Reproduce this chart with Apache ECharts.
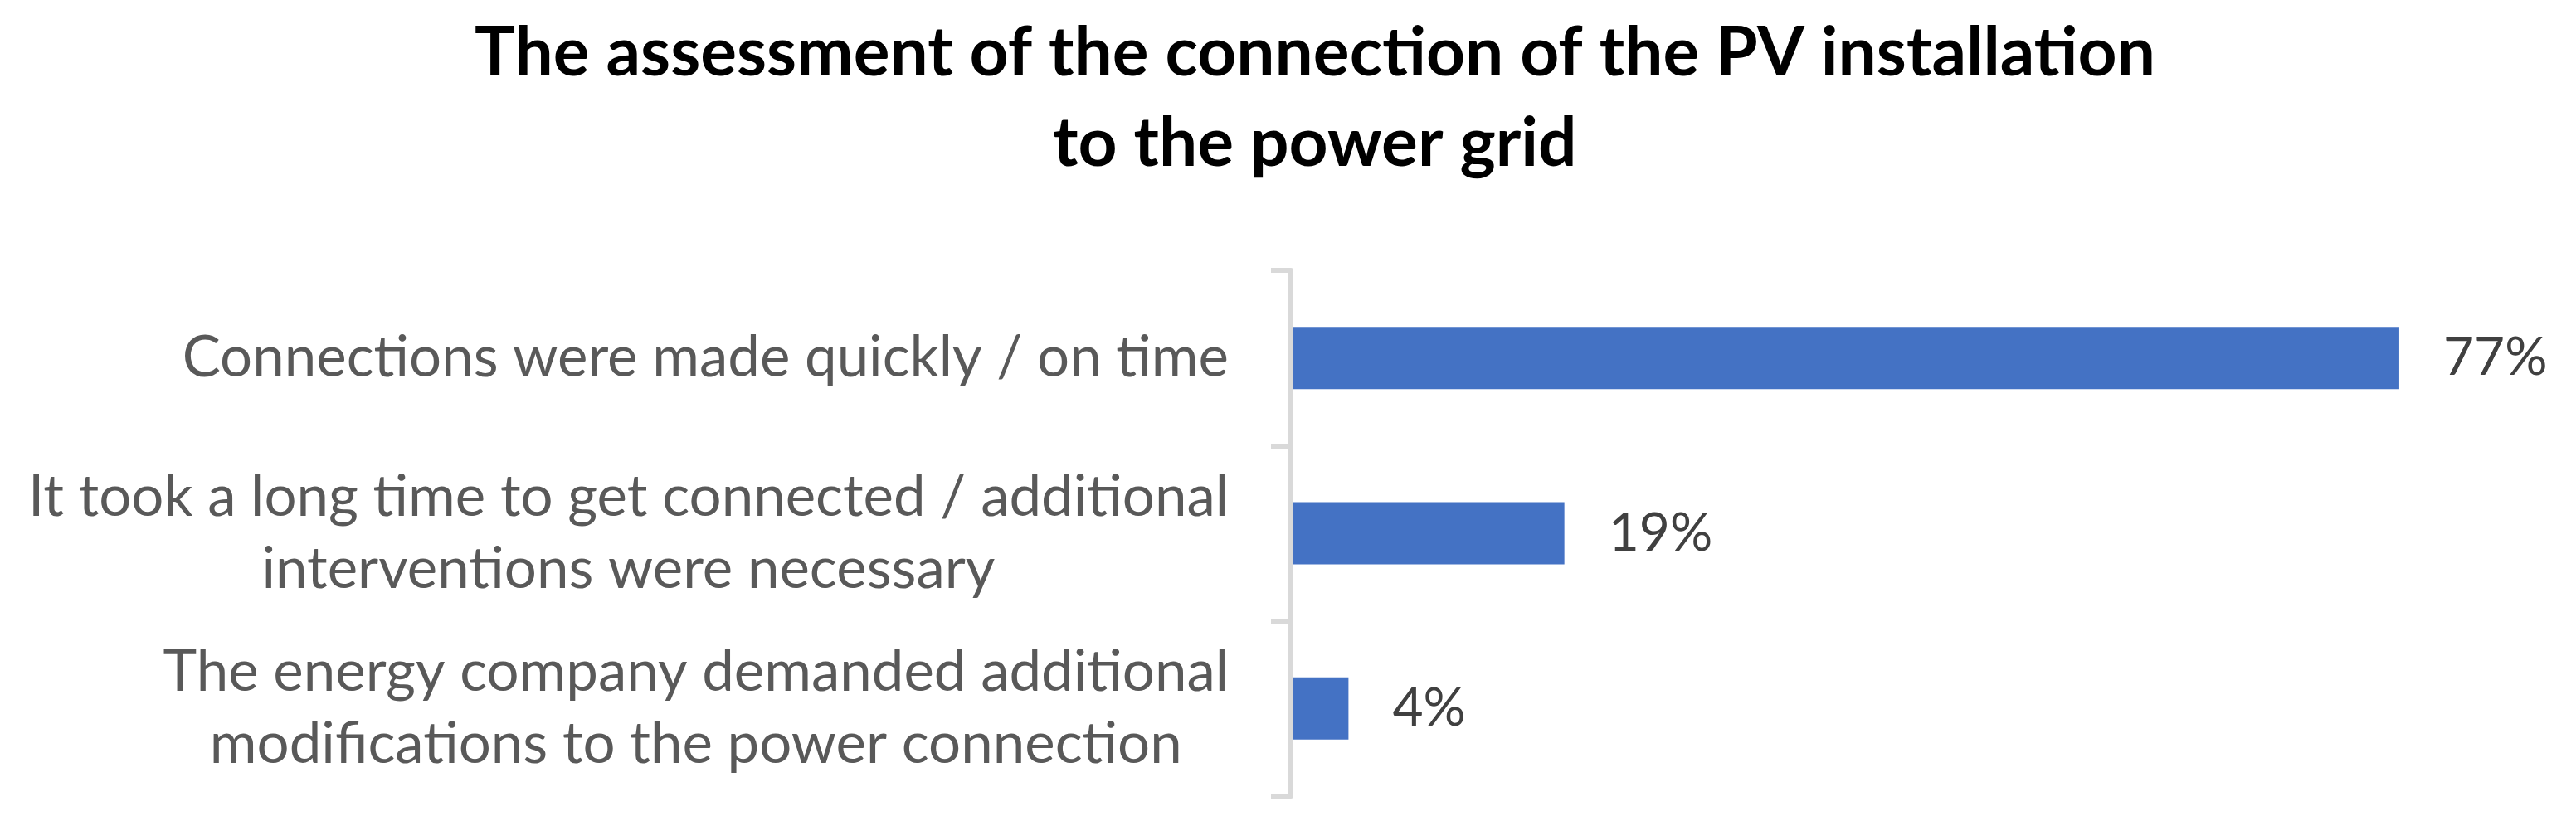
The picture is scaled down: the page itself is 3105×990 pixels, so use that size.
<!DOCTYPE html>
<html>
<head>
<meta charset="utf-8">
<script src="https://cdn.jsdelivr.net/npm/echarts@6/dist/echarts.min.js"></script>
<style>
  html, body { margin: 0; padding: 0; background: #fff; }
  #chart { width: 3105px; height: 990px; }
</style>
</head>
<body>
<div id="chart"></div>
<script>
// data
const categories = [
  "Connections were made quickly / on time",
  "It took a long time to get connected / additional\ninterventions were necessary",
  "The energy company demanded additional\nmodifications to the power connection"
];
const shares = [77, 19, 4];
const titleText = "The assessment of the connection of the PV installation\nto the power grid";

const chart = echarts.init(document.getElementById("chart"));

chart.setOption({
  backgroundColor: "#ffffff",
  animation: false,
  title: {
    text: titleText,
    left: 1585,
    top: 10,
    textAlign: "center",
    padding: 0,
    textStyle: {
      fontFamily: "Lato",
      fontWeight: "bold",
      fontSize: 82,
      lineHeight: 109,
      color: "#000000"
    }
  },
  grid: {
    left: 1556,
    right: 161,
    top: 326,
    bottom: 30,
    containLabel: false
  },
  xAxis: {
    type: "value",
    min: 0,
    max: 80,
    show: false
  },
  yAxis: {
    type: "category",
    data: categories,
    inverse: true,
    z: 5,
    axisLine: { show: true, lineStyle: { color: "#d9d9d9", width: 6 } },
    axisTick: { show: true, inside: false, alignWithLabel: false, length: 24, lineStyle: { color: "#d9d9d9", width: 6 } },
    axisLabel: {
      margin: 75,
      align: "right",
      formatter: function (v) {
        // centre each line inside the right-aligned block
        return v.split("\n").map(function (s) { return "{c|" + s + "}"; }).join("\n");
      },
      rich: {
        c: {
          align: "center",
          fontFamily: "Lato",
          fontSize: 69,
          lineHeight: 87,
          color: "#595959"
        }
      }
    }
  },
  series: [
    {
      type: "bar",
      data: shares,
      barWidth: 75,
      itemStyle: { color: "#4472c4" },
      label: {
        show: true,
        position: "right",
        distance: 53,
        formatter: "{c}%",
        fontFamily: "Lato",
        fontSize: 64,
        color: "#404040"
      }
    }
  ]
});
</script>
</body>
</html>
